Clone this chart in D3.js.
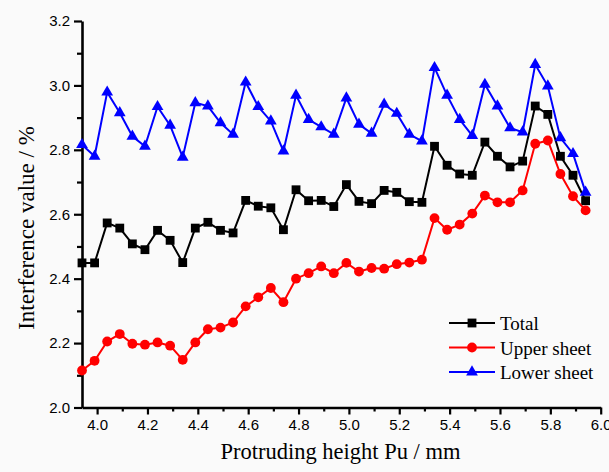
<!DOCTYPE html>
<html>
<head>
<meta charset="utf-8">
<script src="https://cdn.jsdelivr.net/npm/d3@7"></script>
<style>
  html, body { margin: 0; padding: 0; background: #fafafa; }
  #graph { width: 609px; height: 472px; }
</style>
</head>
<body>
<div id="graph"></div>
<script>
// protruding height Pu (mm)
const pu = [3.94, 3.99, 4.04, 4.09, 4.14, 4.19, 4.24, 4.29, 4.34, 4.39,
            4.44, 4.49, 4.54, 4.59, 4.64, 4.69, 4.74, 4.79, 4.84, 4.89,
            4.94, 4.99, 5.04, 5.09, 5.14, 5.19, 5.24, 5.29, 5.34, 5.39,
            5.44, 5.49, 5.54, 5.59, 5.64, 5.69, 5.74, 5.79, 5.84, 5.89, 5.94];

const total = [2.449, 2.449, 2.573, 2.557, 2.508, 2.490, 2.550, 2.519, 2.450, 2.557,
               2.575, 2.550, 2.542, 2.643, 2.625, 2.620, 2.552, 2.676, 2.642, 2.643,
               2.624, 2.692, 2.640, 2.633, 2.674, 2.668, 2.639, 2.637, 2.811, 2.752,
               2.725, 2.721, 2.824, 2.780, 2.747, 2.765, 2.936, 2.910, 2.780, 2.721, 2.642];

const upper = [2.115, 2.145, 2.205, 2.228, 2.198, 2.195, 2.202, 2.192, 2.148, 2.202,
               2.243, 2.248, 2.264, 2.314, 2.342, 2.371, 2.327, 2.400, 2.417, 2.438,
               2.417, 2.449, 2.422, 2.433, 2.431, 2.445, 2.450, 2.459, 2.588, 2.552,
               2.568, 2.602, 2.658, 2.637, 2.637, 2.674, 2.819, 2.829, 2.725, 2.656, 2.612];

const lower = [2.816, 2.780, 2.979, 2.915, 2.842, 2.811, 2.934, 2.876, 2.777, 2.946,
               2.936, 2.884, 2.848, 3.010, 2.934, 2.889, 2.796, 2.969, 2.894, 2.871,
               2.848, 2.961, 2.879, 2.851, 2.941, 2.913, 2.848, 2.827, 3.055, 2.969,
               2.894, 2.844, 3.003, 2.936, 2.868, 2.855, 3.065, 2.998, 2.837, 2.788, 2.668];

const xTicks = [4.0, 4.2, 4.4, 4.6, 4.8, 5.0, 5.2, 5.4, 5.6, 5.8, 6.0];
const yTicks = [2.0, 2.2, 2.4, 2.6, 2.8, 3.0, 3.2];

const seriesNames = ["Total", "Upper sheet", "Lower sheet"];
const seriesColors = ["#000000", "#ff0000", "#0000ff"];
const seriesShapes = [d3.symbolSquare, d3.symbolCircle, d3.symbolTriangle];
const seriesValues = [total, upper, lower];

const width = 609, height = 472;
const plotLeft = 82, plotRight = 600.7, plotTop = 21, plotBottom = 407.5;

const svg = d3.select('#graph')
  .append('svg')
  .attr('width', width).attr('height', height)
  .style('background', '#fafafa');

const xScale = d3.scaleLinear().domain([3.94, 6.0]).range([plotLeft, plotRight]);
const yScale = d3.scaleLinear().domain([2.0, 3.2]).range([plotBottom, plotTop]);

// minor tick positions halfway between the majors
const xMinor = xTicks.slice(0, -1).map((t, i) => (t + xTicks[i + 1]) / 2);
const yMinor = yTicks.slice(0, -1).map((t, i) => (t + yTicks[i + 1]) / 2);

const xAxis = d3.axisBottom(xScale).tickValues(xTicks).tickFormat(d3.format('.1f'))
  .tickSizeInner(7).tickSizeOuter(0).tickPadding(5);
const yAxis = d3.axisLeft(yScale).tickValues(yTicks).tickFormat(d3.format('.1f'))
  .tickSizeInner(8).tickSizeOuter(0).tickPadding(4);

svg.append('g').attr('transform', `translate(0,${plotBottom})`).call(xAxis);
svg.append('g').attr('transform', `translate(${plotLeft},0)`).call(yAxis);

svg.append('g').attr('transform', `translate(0,${plotBottom})`)
  .call(d3.axisBottom(xScale).tickValues(xMinor).tickSize(4).tickFormat(''))
  .select('.domain').remove();
svg.append('g').attr('transform', `translate(${plotLeft},0)`)
  .call(d3.axisLeft(yScale).tickValues(yMinor).tickSize(5).tickFormat(''))
  .select('.domain').remove();

svg.selectAll('.domain').attr('stroke', '#000').attr('stroke-width', 2.6);
svg.selectAll('.tick line').attr('stroke', '#000').attr('stroke-width', 2.2);
svg.selectAll('.tick text')
  .attr('fill', '#000')
  .style('font-family', '"Liberation Sans", Arial, sans-serif')
  .style('font-size', '15px');

// axis titles
svg.append('text')
  .attr('x', (218 + 463) / 2).attr('y', 459)
  .style('text-anchor', 'middle')
  .style('font-family', '"Liberation Serif", "Times New Roman", serif')
  .style('font-size', '22.5px')
  .text('Protruding height Pu / mm');

svg.append('text')
  .attr('transform', 'rotate(-90)')
  .attr('x', -228).attr('y', 34)
  .style('text-anchor', 'middle')
  .style('font-family', '"Liberation Serif", "Times New Roman", serif')
  .style('font-size', '23px')
  .text('Interference value / %');

// lines + markers
const line = d3.line()
  .x((d, i) => xScale(pu[i]))
  .y(d => yScale(d));

const symbolSizes = [78, 76, 60];

seriesValues.forEach((vals, s) => {
  svg.append('path')
    .datum(vals)
    .attr('d', line)
    .attr('fill', 'none')
    .attr('stroke', seriesColors[s])
    .attr('stroke-width', 2);

  svg.append('g')
    .selectAll('path')
    .data(vals)
    .enter().append('path')
    .attr('transform', (d, i) => `translate(${xScale(pu[i])},${yScale(d)})`)
    .attr('d', d3.symbol().type(seriesShapes[s]).size(symbolSizes[s]))
    .attr('fill', seriesColors[s]);
});

// legend
const legend = svg.append('g').attr('transform', 'translate(449,323)');
seriesNames.forEach((name, s) => {
  const g = legend.append('g').attr('transform', `translate(0,${s * 24.5})`);
  g.append('line').attr('x1', 0).attr('x2', 46).attr('y1', 0).attr('y2', 0)
    .attr('stroke', seriesColors[s]).attr('stroke-width', 2);
  g.append('path')
    .attr('transform', 'translate(23,0)')
    .attr('d', d3.symbol().type(seriesShapes[s]).size(symbolSizes[s]))
    .attr('fill', seriesColors[s]);
  g.append('text')
    .attr('x', 51).attr('y', 7)
    .style('font-family', '"Liberation Serif", "Times New Roman", serif')
    .style('font-size', '19px')
    .text(name);
});
</script>
</body>
</html>
